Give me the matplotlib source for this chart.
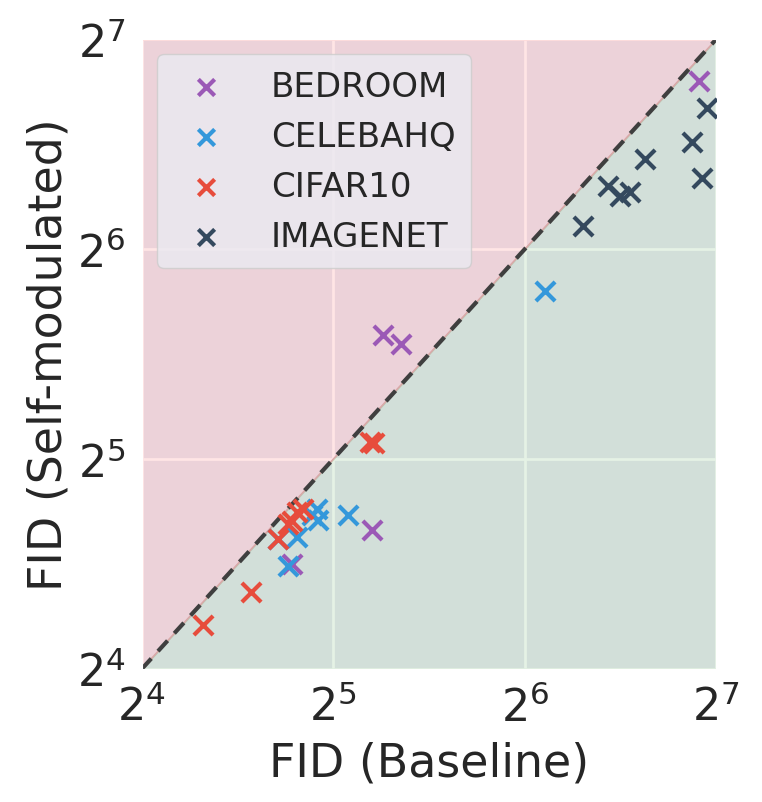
import numpy as np
import matplotlib
matplotlib.use("Agg")
import matplotlib.pyplot as plt
import seaborn as sns

# FID values (baseline, self-modulated)
bedroom_base = [38.3, 40.9, 36.8, 27.6, 120.3]
bedroom_sm = [48.2, 46.8, 25.3, 22.6, 111.4]

celeba_base = [68.9, 33.7, 30.2, 30.3, 28.1, 26.2, 27.2, 29.6, 133.5]
celeba_sm = [55.7, 26.6, 27.1, 26.2, 24.7, 24.6, 22.5, 26.6, 124.0]

cifar_base = [20.0, 23.8, 26.2, 27.6, 28.1, 28.7, 27.2, 36.6, 37.1]
cifar_sm = [18.5, 20.6, 24.6, 26.1, 26.9, 27.1, 25.8, 33.9, 33.7]

imagenet_base = [79.1, 86.6, 90.4, 93.7, 99.0, 117.4, 123.9, 121.7]
imagenet_sm = [69.1, 78.8, 76.2, 77.2, 86.2, 91.1, 101.9, 80.9]

datasets = ["BEDROOM", "CELEBAHQ", "CIFAR10", "IMAGENET"]
colors = ["#9b59b6", "#3498db", "#e74c3c", "#34495e"]

sns.set_style("darkgrid")
plt.rcParams["font.family"] = ["DejaVu Sans"]
plt.rcParams["grid.linewidth"] = 2.0

fig = plt.figure(figsize=(7.62, 8.03), dpi=100)
ax = fig.add_axes([0.186, 0.1656, 0.754, 0.7844])

lo, hi = 16, 128
diag = np.array([lo, hi])
ax.fill_between(diag, diag, hi, color="r", alpha=0.1, zorder=1)
ax.fill_between(diag, lo, diag, color="g", alpha=0.1, zorder=1)
ax.plot(diag, diag, color="#d9a8a8", linewidth=1, zorder=1.5)
ax.plot(diag, diag, color="#3f3f3f", linestyle=(0, (3.4, 2.4)), linewidth=3, zorder=2)

series = [(bedroom_base, bedroom_sm), (celeba_base, celeba_sm),
          (cifar_base, cifar_sm), (imagenet_base, imagenet_sm)]
for (xs, ys), name, c in zip(series, datasets, colors):
    ax.scatter(xs, ys, marker="x", s=190, linewidths=3, color=c, label=name, zorder=3)

ax.set_xscale("log", base=2)
ax.set_yscale("log", base=2)
ax.set_xlim(lo, hi)
ax.set_ylim(lo, hi)
ax.set_xticks([16, 32, 64, 128])
ax.set_yticks([16, 32, 64, 128])
ax.minorticks_off()
ax.tick_params(labelsize=32, pad=8)

ax.set_xlabel("FID (Baseline)", fontsize=33, labelpad=8)
ax.set_ylabel("FID (Self-modulated)", fontsize=33)

ax.legend(loc="upper left", fontsize=24.5, markerscale=0.85, handlelength=2.0,
          handletextpad=0.9, borderpad=0.45, labelspacing=0.5,
          borderaxespad=0.45, bbox_to_anchor=(0.0, 1.0))

fig.savefig("out.png", dpi=100)
